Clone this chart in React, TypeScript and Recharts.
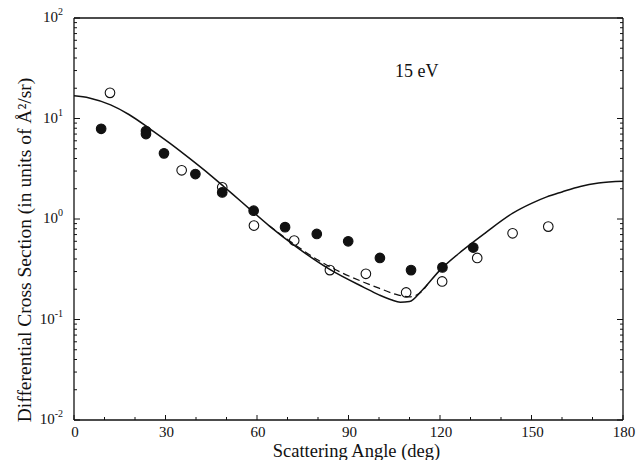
import { ComposedChart, Label, Line, Scatter, XAxis, YAxis } from 'recharts'

const SERIF = '"Liberation Serif", "Times New Roman", serif'
const INK = '#111'

// theory curve (solid)
const solidAngles = [0, 5, 12, 18, 25, 31.5, 38, 44.6, 49, 52, 58, 64, 73, 84, 95, 100, 104, 107, 110, 114, 120, 127.5, 135, 144, 150, 155, 160, 166, 172, 180]
const solidValues = [16.8, 16.03, 13.65, 10.96, 7.85, 5.65, 3.98, 2.75, 2.12, 1.77, 1.225, 0.855, 0.525, 0.313, 0.209, 0.176, 0.157, 0.1486, 0.1507, 0.193, 0.31, 0.49, 0.733, 1.15, 1.43, 1.66, 1.86, 2.11, 2.28, 2.37]

// theory curve (dashed)
const dashedAngles = [64, 73, 80, 88, 95, 100, 105, 110, 114, 116]
const dashedValues = [0.855, 0.54, 0.39, 0.29, 0.235, 0.205, 0.18, 0.168, 0.19, 0.225]

// measurements, filled circles
const filledAngles = [8.9, 23.6, 23.6, 29.5, 39.8, 48.6, 58.9, 69.2, 79.6, 89.9, 100.3, 110.5, 120.8, 130.9]
const filledValues = [7.9, 7.5, 7.0, 4.5, 2.8, 1.84, 1.21, 0.83, 0.71, 0.6, 0.41, 0.31, 0.33, 0.52]

// measurements, open circles
const openAngles = [11.8, 35.3, 48.6, 59.0, 72.2, 83.9, 95.7, 108.9, 120.7, 132.2, 143.8, 155.5]
const openValues = [18.0, 3.05, 2.07, 0.86, 0.61, 0.31, 0.285, 0.186, 0.239, 0.41, 0.72, 0.84]

const xTicks = [0, 10, 20, 30, 40, 50, 60, 70, 80, 90, 100, 110, 120, 130, 140, 150, 160, 170, 180]
const xLabelEvery = 30
const yDecades = [0.01, 0.1, 1, 10]
const yMinorSteps = [1, 2, 3, 4, 5, 6, 7, 8, 9]
const yTicks = [...yDecades.flatMap((d) => yMinorSteps.map((m) => m * d)), 100]

const zip = (xs: number[], ys: number[]) => xs.map((x, i) => ({ x, y: ys[i] }))
const solid = zip(solidAngles, solidValues)
const dashed = zip(dashedAngles, dashedValues)
const filled = zip(filledAngles, filledValues)
const open = zip(openAngles, openValues)

const isDecade = (v: number) => Math.abs(Math.log10(v) - Math.round(Math.log10(v))) < 1e-6

type TickProps = { x?: number; y?: number; payload?: { value: number } }

function BottomTick({ x = 0, y = 0, payload }: TickProps) {
  const v = payload?.value ?? 0
  const major = v % xLabelEvery === 0
  return (
    <g>
      <line x1={x} y1={y} x2={x} y2={y - (major ? 5 : 3)} stroke={INK} />
      {major && (
        <text x={x + 1} y={y + 17} textAnchor="middle" fontSize={15} fontFamily={SERIF} fill={INK}>
          {v}
        </text>
      )}
    </g>
  )
}

function TopTick({ x = 0, y = 0, payload }: TickProps) {
  const major = (payload?.value ?? 0) % xLabelEvery === 0
  return <line x1={x} y1={y} x2={x} y2={y + (major ? 5 : 3)} stroke={INK} />
}

function LeftTick({ x = 0, y = 0, payload }: TickProps) {
  const v = payload?.value ?? 1
  const major = isDecade(v)
  return (
    <g>
      <line x1={x} y1={y} x2={x + (major ? 6 : 3)} y2={y} stroke={INK} />
      {major && (
        <text x={x - 11} y={y + 4} textAnchor="end" fontSize={15} fontFamily={SERIF} fill={INK}>
          <tspan>10</tspan>
          <tspan dy={-7} fontSize={10}>
            {Math.round(Math.log10(v))}
          </tspan>
        </text>
      )}
    </g>
  )
}

function RightTick({ x = 0, y = 0, payload }: TickProps) {
  const major = isDecade(payload?.value ?? 1)
  return <line x1={x} y1={y} x2={x - (major ? 6 : 3)} y2={y} stroke={INK} />
}

const dot = (isFilled: boolean) => (p: any) => (
  <circle cx={p.cx} cy={p.cy} r={4.8} fill={isFilled ? INK : 'none'} stroke={INK} strokeWidth={1.1} />
)

export default function App() {
  return (
    <div style={{ position: 'absolute', left: 0, top: 0, background: '#fff' }}>
      <ComposedChart width={637} height={460} margin={{ top: 17, right: 13, bottom: 10, left: 14 }}>
        <XAxis
          dataKey="x"
          type="number"
          domain={[0, 180]}
          ticks={xTicks}
          interval={0}
          allowDataOverflow
          height={30}
          tickSize={0}
          tickMargin={0}
          tickLine={false}
          tick={<BottomTick />}
          axisLine={{ stroke: INK, strokeWidth: 1.3 }}
        >
          <Label
            value="Scattering Angle (deg)"
            position="center"
            dx={8}
            dy={15.5}
            style={{ fontSize: 18.5, fontFamily: SERIF, fill: INK }}
          />
        </XAxis>
        <XAxis
          xAxisId="top"
          orientation="top"
          type="number"
          domain={[0, 180]}
          ticks={xTicks}
          interval={0}
          allowDataOverflow
          height={1}
          tickSize={0}
          tickMargin={0}
          tickLine={false}
          tick={<TopTick />}
          axisLine={{ stroke: INK, strokeWidth: 1.3 }}
        />
        <YAxis
          dataKey="y"
          type="number"
          scale="log"
          domain={[0.01, 100]}
          ticks={yTicks}
          interval={0}
          allowDataOverflow
          width={60}
          tickSize={0}
          tickMargin={0}
          tickLine={false}
          tick={<LeftTick />}
          axisLine={{ stroke: INK, strokeWidth: 1.3 }}
        >
          <Label
            value="Differential Cross Section (in units of Å²/sr)"
            position="center"
            angle={-90}
            dx={-20}
            dy={31}
            style={{ fontSize: 19.5, fontFamily: SERIF, fill: INK, textAnchor: 'middle' }}
          />
        </YAxis>
        <YAxis
          yAxisId="right"
          orientation="right"
          type="number"
          scale="log"
          domain={[0.01, 100]}
          ticks={yTicks}
          interval={0}
          allowDataOverflow
          width={1}
          tickSize={0}
          tickMargin={0}
          tickLine={false}
          tick={<RightTick />}
          axisLine={{ stroke: INK, strokeWidth: 1.3 }}
        />
        <Line data={solid} dataKey="y" type="monotone" stroke={INK} strokeWidth={1.5} dot={false} isAnimationActive={false} />
        <Line
          data={dashed}
          dataKey="y"
          type="monotone"
          stroke={INK}
          strokeWidth={1.2}
          strokeDasharray="7 4"
          dot={false}
          isAnimationActive={false}
        />
        <Scatter data={filled} dataKey="y" shape={dot(true)} isAnimationActive={false} />
        <Scatter data={open} dataKey="y" shape={dot(false)} isAnimationActive={false} />
        <text x={395} y={77} fontSize={18} fontFamily={SERIF} fill={INK}>
          15 eV
        </text>
      </ComposedChart>
    </div>
  )
}
